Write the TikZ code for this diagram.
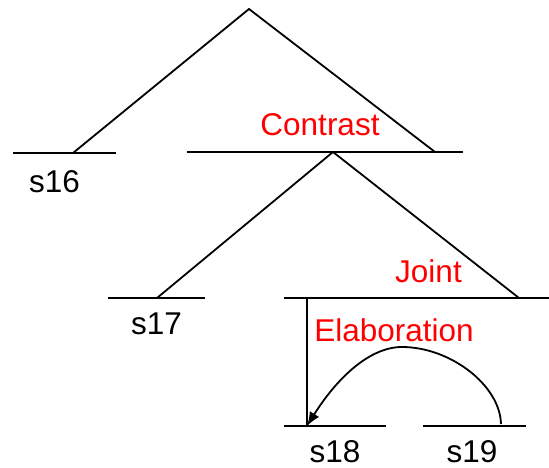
\documentclass[tikz,border=0pt]{standalone}
\usepackage{fontspec}
\setmainfont{Liberation Sans}
\usetikzlibrary{arrows.meta}
\begin{document}
\begin{tikzpicture}[x=1pt,y=-1pt,
  ln/.style={line width=1.8pt},
  lbl/.style={anchor=base,inner sep=0pt,font=\fontsize{31.5}{36}\selectfont},
  rel/.style={lbl,text=red}]
\useasboundingbox (0,0) rectangle (549,468);
% coordinates
\coordinate (top) at (249,9);
\coordinate (b16l) at (13,153); \coordinate (b16r) at (116,153); \coordinate (p16) at (73,153);
\coordinate (bCl) at (187,152); \coordinate (bCr) at (463,152); \coordinate (pCr) at (435,152); \coordinate (pC) at (333,152);
\coordinate (b17l) at (108,298); \coordinate (b17r) at (205,298); \coordinate (p17) at (157,298);
\coordinate (bJl) at (284,298); \coordinate (bJr) at (549,298); \coordinate (pJr) at (519,298); \coordinate (pJ) at (307,298);
\coordinate (b18l) at (284,426); \coordinate (b18r) at (386,426); \coordinate (p18) at (307,426);
\coordinate (b19l) at (423,426); \coordinate (b19r) at (526,426); \coordinate (p19) at (501,424);
\coordinate (peak) at (402,347);
% bars
\draw[ln] (b16l) -- (b16r);
\draw[ln] (bCl) -- (bCr);
\draw[ln] (b17l) -- (b17r);
\draw[ln] (bJl) -- (bJr);
\draw[ln] (b18l) -- (b18r);
\draw[ln] (b19l) -- (b19r);
% tree edges
\draw[ln] (p16) -- (top) -- (pCr);
\draw[ln] (p17) -- (pC) -- (pJr);
\draw[ln] (pJ) -- (p18);
\draw[ln,-{Latex[length=14pt,width=11pt]}] (p19) .. controls (500,385) and (450,347) .. (peak)
   .. controls (368,347) and (335,381) .. (p18);
% labels
\node[rel] (contrast) at (320,136) {Contrast};
\node[rel] (joint) at (428.5,282) {Joint};
\node[rel] (elab) at (394,341) {Elaboration};
\node[lbl] (s16) at (54.5,193) {s16};
\node[lbl] (s17) at (156.5,334) {s17};
\node[lbl] (s18) at (335,462) {s18};
\node[lbl] (s19) at (472,462) {s19};
\end{tikzpicture}
\end{document}
